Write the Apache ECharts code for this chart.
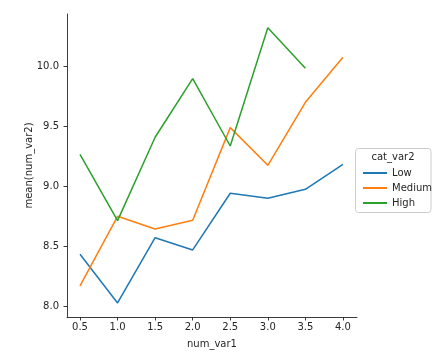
<!DOCTYPE html>
<html><head><meta charset="utf-8">
<script src="https://cdn.jsdelivr.net/npm/echarts@6/dist/echarts.min.js"></script>
<style>html,body{margin:0;padding:0;background:#fff}#c{width:436px;height:360px}</style>
</head><body><div id="c"></div>
<script>
const xValues = [0.5, 1.0, 1.5, 2.0, 2.5, 3.0, 3.5, 4.0];
const lowVals = [8.431, 8.025, 8.569, 8.467, 8.939, 8.897, 8.972, 9.180];
const mediumVals = [8.167, 8.747, 8.642, 8.714, 9.486, 9.172, 9.697, 10.072];
const highVals = [9.264, 8.711, 9.406, 9.894, 9.333, 10.319, 9.981, null];
const seriesNames = ['Low', 'Medium', 'High'];
const xTicks = [0.5, 1.0, 1.5, 2.0, 2.5, 3.0, 3.5, 4.0];
const yTicks = [8.0, 8.5, 9.0, 9.5, 10.0];
const colors = ['#1f77b4', '#ff7f0e', '#2ca02c'];

const font = 'DejaVu Sans';
const txt = '#262626';
const pair = vals => xValues.map((x, i) => [x, vals[i]]).filter(p => p[1] !== null);
const allVals = [lowVals, mediumVals, highVals];

const chart = echarts.init(document.getElementById('c'), null, {renderer: 'canvas'});
chart.setOption({
  animation: false,
  backgroundColor: '#fff',
  grid: {left: 67, right: 79, top: 14, bottom: 43, containLabel: false},
  xAxis: {
    type: 'value', min: 0.327, max: 4.187,
    name: 'num_var1', nameLocation: 'middle', nameGap: 22,
    nameTextStyle: {fontFamily: font, fontSize: 10, color: txt},
    splitLine: {show: false},
    axisLine: {show: true, lineStyle: {color: '#262626', width: 0.9}},
    axisTick: {show: true, length: 3.5, customValues: xTicks, lineStyle: {color: '#262626', width: 0.9}},
    axisLabel: {customValues: xTicks, margin: 5, fontFamily: font, fontSize: 10, color: txt,
      formatter: v => v.toFixed(1)}
  },
  yAxis: {
    type: 'value', min: 7.908, max: 10.433,
    name: 'mean(num_var2)', nameLocation: 'middle', nameGap: 33, nameMoveOverlap: false,
    nameTextStyle: {fontFamily: font, fontSize: 10, color: txt},
    splitLine: {show: false},
    axisLine: {show: true, lineStyle: {color: '#262626', width: 0.9}},
    axisTick: {show: true, length: 3.5, customValues: yTicks, lineStyle: {color: '#262626', width: 0.9}},
    axisLabel: {customValues: yTicks, margin: 8, fontFamily: font, fontSize: 10, color: txt,
      formatter: v => v.toFixed(1)}
  },
  legend: {
    orient: 'vertical', left: 358, top: 162,
    data: seriesNames, icon: 'rect', itemWidth: 24, itemHeight: 2, itemGap: 3,
    textStyle: {fontFamily: font, fontSize: 10, color: txt, lineHeight: 12}
  },
  graphic: [
    {type: 'rect', z: 0, shape: {x: 355.5, y: 148.5, width: 75.5, height: 64, r: 3},
      style: {fill: 'rgba(255,255,255,0.8)', stroke: '#cccccc', lineWidth: 1}},
    {type: 'text', z: 1, x: 393, y: 157, style: {text: 'cat_var2', font: '10px "DejaVu Sans"', fill: txt,
      textAlign: 'center', textVerticalAlign: 'middle'}}
  ],
  series: seriesNames.map((n, i) => ({
    name: n, type: 'line', data: pair(allVals[i]), showSymbol: false,
    lineStyle: {color: colors[i], width: 1.5}, itemStyle: {color: colors[i]}
  }))
});
</script></body></html>
